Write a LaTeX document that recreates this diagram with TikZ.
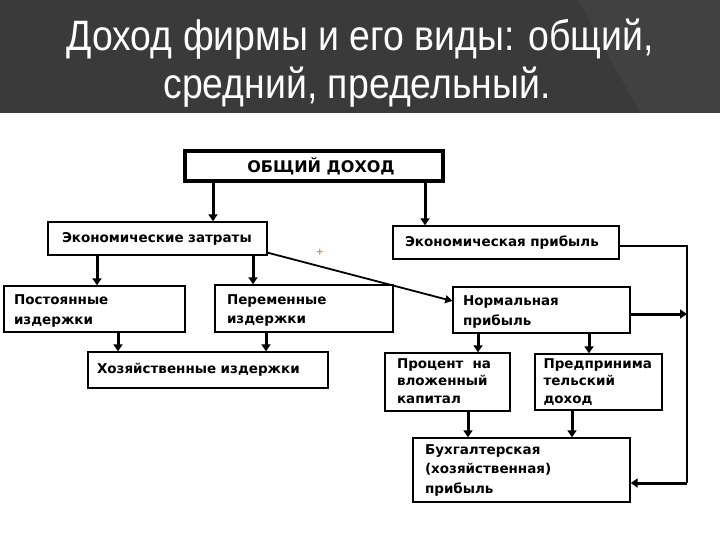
\documentclass[tikz,border=0pt]{standalone}
\usepackage{fontspec}
\setmainfont{Liberation Sans}
\newfontfamily\boxfont{DejaVu Sans}
\newfontfamily\titlefont{Liberation Sans}[FakeStretch=0.88]
\usetikzlibrary{arrows.meta}
\definecolor{barcol}{RGB}{58,58,58}
\definecolor{barcolb}{RGB}{65,65,65}
\definecolor{pluscol}{RGB}{205,125,45}
\tikzset{
  box/.style={draw=black, line width=1.4pt, inner sep=0pt, align=left,
    font=\boxfont\bfseries\fontsize{13.5}{19.5}\selectfont},
  arr/.style={line width=3pt, -{Triangle[width=9pt,length=7pt]}},
  diag/.style={line width=1.8pt, -{Triangle[width=8pt,length=7pt]}},
  thinline/.style={line width=1.5pt},
  titletext/.style={text=white, font=\titlefont\fontsize{42.5}{42.5}\selectfont, anchor=base, inner sep=0pt}
}
\begin{document}
\begin{tikzpicture}[x=1pt,y=-1pt]
\useasboundingbox (0,0) rectangle (720,540);
\fill[white] (0,0) rectangle (720,540);
% title bar
\fill[barcol] (0,0) rectangle (720,113);
\fill[barcolb] (578,0) -- (720,0) -- (720,113) -- (640,113) -- cycle;
\node[titletext] (t1) at (360,51) {Доход фирмы и его виды: общий,};
\node[titletext] (t2) at (357,99) {средний, предельный.};

% boxes
\node[draw=black, line width=4pt, minimum width=258pt, minimum height=30pt, inner sep=0pt,
      font=\boxfont\bfseries\fontsize{16}{16}\selectfont] (od) at (314,166) {\hspace*{14pt}ОБЩИЙ ДОХОД};
\node[box, minimum width=219pt, minimum height=33pt, text width=191pt] (ez) at (157.5,238.5) {Экономические затраты};
\node[box, minimum width=226pt, minimum height=33pt, text width=202pt] (ep) at (506,242.5) {Экономическая прибыль};
\node[box, minimum width=181pt, minimum height=46pt, text width=161pt] (pi) at (94.5,309) {\strut Постоянные\\издержки};
\node[box, minimum width=178pt, minimum height=47pt, text width=154pt] (vi) at (304,308.5) {\strut Переменные\\издержки};
\node[box, minimum width=177pt, minimum height=46pt, text width=157pt] (np) at (541.5,310) {\strut Нормальная\\прибыль};
\node[box, minimum width=240pt, minimum height=36pt, text width=222pt] (hi) at (208,370) {Хозяйственные издержки};
\node[box, minimum width=125pt, minimum height=58pt, text width=101pt,
      font=\boxfont\bfseries\fontsize{13.5}{17.5}\selectfont] (pk) at (447.5,382) {\strut Процент\ \ на\\вложенный\\капитал\strut};
\node[box, minimum width=127pt, minimum height=56pt, text width=110pt,
      font=\boxfont\bfseries\fontsize{13.5}{17.5}\selectfont] (pd) at (598.5,382) {\strut Предпринима\\тельский\\доход\strut};
\node[box, minimum width=217pt, minimum height=64pt, text width=193pt] (bp) at (521.5,470) {\strut Бухгалтерская\\(хозяйственная)\\прибыль\strut};

\node[text=pluscol, inner sep=0pt, font=\fontsize{13}{13}\selectfont] (plus) at (320,253) {+};

% connectors
\draw[arr] (213,0 |- od.south) -- (213,0 |- ez.north);
\draw[arr] (425,0 |- od.south) -- (425,0 |- ep.north);
\draw[arr] (97,0 |- ez.south) -- (97,0 |- pi.north);
\draw[arr] (253,0 |- ez.south) -- (253,0 |- vi.north);
\draw[arr] (118,0 |- pi.south) -- (118,0 |- hi.north);
\draw[arr] (266,0 |- vi.south) -- (266,0 |- hi.north);
\draw[arr] (478,0 |- np.south) -- (478,0 |- pk.north);
\draw[arr] (589,0 |- np.south) -- (589,0 |- pd.north);
\draw[arr] (468,0 |- pk.south) -- (468,0 |- bp.north);
\draw[arr] (572,0 |- pd.south) -- (572,0 |- bp.north);
\draw[diag] ([yshift=3pt]ez.south east) -- ([yshift=9pt]np.west);

\coordinate (r1) at (687,246);
\coordinate (r2) at (687,314);
\coordinate (r3) at (687,483);
\draw[thinline] (ep.east |- r1) -- (r1) -- (r3);
\draw[arr] (np.east |- r2) -- (r2);
\draw[arr] (r3) -- (bp.east |- r3);
\end{tikzpicture}
\end{document}
